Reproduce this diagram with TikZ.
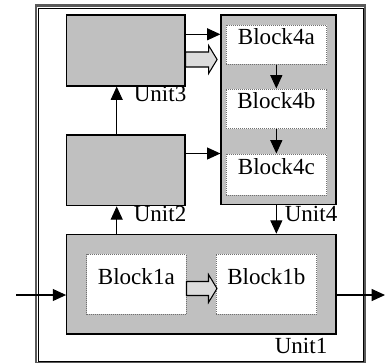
\documentclass[tikz,border=0pt]{standalone}
\usepackage{fontspec}
\setmainfont{Liberation Serif}
\usetikzlibrary{arrows.meta,fit,calc}
\definecolor{unitgray}{HTML}{C0C0C0}
\definecolor{fatgray}{HTML}{DCDCDC}
\definecolor{framegray}{HTML}{5A5A5A}
\definecolor{dotgray}{HTML}{707070}

\begin{document}
\begin{tikzpicture}[x=0.75pt,y=-0.75pt,
  unit/.style={draw=black, line width=0.9pt, fill=unitgray, inner sep=0pt},
  block/.style={draw=dotgray, dash pattern=on 0.75pt off 0.75pt, line width=0.75pt,
    fill=white, inner sep=0pt, font=\fontsize{17.3}{20}\selectfont},
  lbl/.style={font=\fontsize{17.3}{20}\selectfont, inner sep=0pt, anchor=base east},
  flow/.style={line width=0.8pt, -{Triangle[length=10pt,width=9pt]}},
  fat/.style={draw=black, line width=0.8pt, fill=fatgray, line join=miter}]
\useasboundingbox (0,0) rectangle (385,362);

% double frame around the system
\draw[framegray, line width=1.6pt] (36,5.5) rectangle (365.3,363);
\draw[black, line width=0.7pt] (38.7,8) rectangle (363,361);

% units
\node[unit, fit={(66.7,15) (185,86)}] (unit3) {};
\node[unit, fit={(66.7,135) (185,205.7)}] (unit2) {};
\node[unit, fit={(221,15) (336,204.3)}] (unit4) {};
\node[unit, fit={(66.7,234.3) (336,334)}] (unit1) {};

% inner blocks
\node[block, fit={(226,25) (326.7,64)}] (b4a) {Block4a};
\node[block, fit={(226,89) (326.7,128.7)}] (b4b) {Block4b};
\node[block, fit={(226,154) (326.7,195)}] (b4c) {Block4c};
\node[block, fit={(86.7,254.3) (186,314.3)}] (b1a) {Block1a};
\node[block, fit={(216,254.3) (316.7,314.3)}] (b1b) {Block1b};

% unit labels
\node[lbl] (l3) at ($(unit3.south east)+(1,15)$) {Unit3};
\node[lbl] (l2) at ($(unit2.south east)+(1,15.5)$) {Unit2};
\node[lbl] (l4) at ($(unit4.south east)+(1,17)$) {Unit4};
\node[lbl] (l1) at ($(unit1.south east)+(-9,19)$) {Unit1};

% control flow between units
\draw[flow] (unit1.north -| 116.7,0) -- (unit2.south -| 116.7,0);
\draw[flow] (unit2.north -| 116.7,0) -- (unit3.south -| 116.7,0);
\draw[flow] (unit4.south -| b4b.south) -- (unit1.north -| b4b.south);
\draw[flow] (unit3.east |- 0,34.3) -- (unit4.west |- 0,34.3);
\draw[flow] (unit2.east |- b4c.north) -- (unit4.west |- b4c.north);
\draw[flow] (b4a) -- (b4b);
\draw[flow] (b4b) -- (b4c);

% external input and output
\coordinate (in) at (16,295);
\coordinate (out) at (385,295);
\draw[flow] (in) -- (unit1.west |- in);
\draw[flow] (unit1.east |- out) -- (out);

% data transfer arrows
\coordinate (f3) at (unit3.east |- 0,59.5);
\draw[fat] (f3) ++(0,-7.5) -- ++(23,0) -- ++(0,-6.5) -- ++(8.5,14)
  -- ++(-8.5,14) -- ++(0,-6.5) -- ++(-23,0) -- cycle;
\coordinate (f1) at (b1a.east |- 0,288.5);
\draw[fat] (f1) ++(0,-7) -- ++(22,0) -- ++(0,-7) -- ++(8.5,14)
  -- ++(-8.5,14) -- ++(0,-7) -- ++(-22,0) -- cycle;
\end{tikzpicture}
\end{document}
